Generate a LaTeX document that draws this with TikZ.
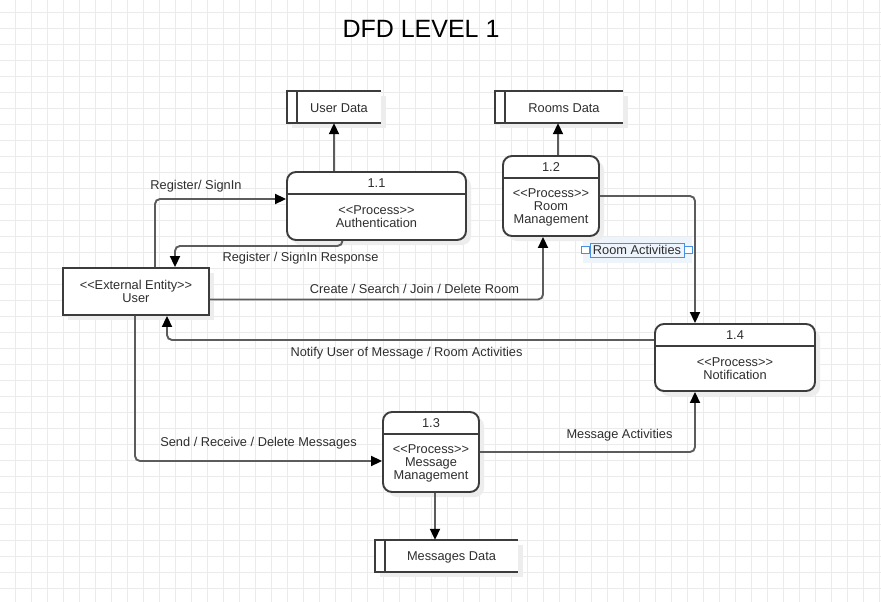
\documentclass[tikz,border=0pt]{standalone}
\usepackage{fontspec}
\setmainfont{Liberation Sans}[Ligatures=TeXOff]
\usetikzlibrary{arrows.meta, positioning, calc, shadows, backgrounds}

\definecolor{gridgray}{HTML}{EBEBEB}
\definecolor{linegray}{HTML}{5C5C5C}
\definecolor{boxgray}{HTML}{3C3C3C}
\definecolor{textgray}{HTML}{2E2E2E}
\definecolor{selblue}{HTML}{4A90E2}
\definecolor{seltint}{HTML}{EDF4FC}

\begin{document}
\begin{tikzpicture} [
    x=1pt, y=-1pt,
    font=\fontsize{12.8}{13}\selectfont,
    text=textgray,
    gridline/.style={draw=gridgray, line width=0.8pt},
    boxshadow/.style={drop shadow={shadow xshift=5pt, shadow yshift=-5pt, fill=black!7, opacity=1}},
    process/.style={rectangle, rounded corners=9pt, draw=boxgray, line width=1.9pt, fill=white, boxshadow},
    entity/.style={rectangle, draw=boxgray, line width=1.9pt, fill=white, boxshadow},
    store/.style={rectangle, fill=white, boxshadow},
    storeline/.style={draw=boxgray, line width=1.9pt},
    divider/.style={draw=boxgray, line width=1.9pt},
    proctext/.style={align=center, inner sep=0pt},
    flowlabel/.style={inner sep=1pt},
    arrow/.style={-{Triangle[length=11pt, width=10pt, color=black]}, draw=linegray, line width=1.9pt, rounded corners=5pt}
]

\useasboundingbox (0,0) rectangle (881,602);

% Page and grid (background)
\begin{scope}[on background layer]
    \fill[white] (0,0) rectangle (881,602);
    \foreach \gx in {15,31,...,879} \draw[gridline] (\gx,0) -- (\gx,602);
    \foreach \gy in {12,28,...,600} \draw[gridline] (0,\gy) -- (881,\gy);
\end{scope}

% Title
\node[font=\fontsize{25}{30}\selectfont, text=black] (title) at (421,29) {DFD LEVEL 1};

% Data stores
\node[store, minimum width=94pt, minimum height=32pt] (ud) at (334,107) {};
\node[store, minimum width=128pt, minimum height=32pt] (rd) at (559,107) {};
\node[store, minimum width=143pt, minimum height=32pt] (md) at (446.5,556) {};
\foreach \st in {ud, rd, md} {
    \draw[storeline] (\st.north east) -- (\st.north west) -- (\st.south west) -- (\st.south east);
    \draw[storeline] ([xshift=10pt]\st.north west) -- ([xshift=10pt]\st.south west);
}
\node (udtext) at ([xshift=5pt, yshift=-1pt]ud.center) {User Data};
\node (rdtext) at ([xshift=5pt, yshift=-1pt]rd.center) {Rooms Data};
\node (mdtext) at ([xshift=5pt, yshift=-1pt]md.center) {Messages Data};

% External entity
\node[entity, minimum width=146pt, minimum height=47pt] (user) at (136,291.5) {};
\node[proctext] (usertext) at ([yshift=0.5pt]user.center) {<<External Entity>>\\User};

% Processes
\node[process, minimum width=179pt, minimum height=68pt] (auth) at (376.5,206) {};
\node[process, minimum width=96pt, minimum height=80pt] (rm) at (551,196) {};
\node[process, minimum width=96pt, minimum height=80pt] (mm) at (431,452) {};
\node[process, minimum width=160pt, minimum height=67pt] (notif) at (735,357.5) {};
\foreach \pr in {auth, rm, mm, notif}
    \draw[divider] ([yshift=-22.5pt]\pr.north west) -- ([yshift=-22.5pt]\pr.north east);

\node (authid) at ([yshift=-12pt]auth.north) {1.1};
\node (rmid) at ([yshift=-12pt]rm.north) {1.2};
\node (mmid) at ([yshift=-12pt]mm.north) {1.3};
\node (notifid) at ([yshift=-12.5pt]notif.north) {1.4};

\node[proctext] (authtext) at ([yshift=-11pt]auth.center) {<<Process>>\\Authentication};
\node[proctext] (rmtext) at ([yshift=-11.5pt]rm.center) {<<Process>>\\Room\\Management};
\node[proctext] (mmtext) at ([yshift=-11.5pt]mm.center) {<<Process>>\\Message\\Management};
\node[proctext] (notiftext) at ([yshift=-11.5pt]notif.center) {<<Process>>\\Notification};

% Flows
\draw[arrow] ([xshift=19pt]user.north) |- ([yshift=7pt]auth.west);
\draw[arrow] ([xshift=-34pt]auth.south) -- ++(0,5) -| ([xshift=39pt]user.north);
\draw[arrow] ([yshift=-8pt]user.east) -| ([xshift=-8pt]rm.south);
\draw[arrow] ([yshift=17.5pt]notif.west) -| ([xshift=31pt]user.south);
\draw[arrow] ([xshift=-1pt]user.south) |- ([yshift=-9pt]mm.west);
\draw[arrow] (mm.east) -| ([xshift=-40pt]notif.south);
\draw[arrow] (rm.east) -| ([xshift=-40pt]notif.north);
\draw[arrow] ([xshift=-42.5pt]auth.north) -- (ud.south);
\draw[arrow] ([xshift=7pt]rm.north) -- ([xshift=7pt]rm.north |- rd.south);
\draw[arrow] ([xshift=4pt]mm.south) -- ([xshift=4pt]mm.south |- md.north);

% Flow labels
\node[flowlabel] (lblsign) at (196,186.5) {Register/ SignIn};
\node[flowlabel] (lblresp) at (300.5,258.5) {Register / SignIn Response};
\node[flowlabel] (lblroom) at (414.5,288.5) {Create / Search / Join / Delete Room};
\node[flowlabel] (lblnotify) at (406.5,353.5) {Notify User of Message / Room Activities};
\node[flowlabel] (lblsend) at (258.5,443.5) {Send / Receive / Delete Messages};
\node[flowlabel] (lblmsg) at (619.5,435) {Message Activities};

% Selected label
\begin{scope}[on background layer]
    \fill[seltint] (583,237) rectangle (692,263);
\end{scope}
\node[flowlabel, draw=selblue, line width=0.8pt, inner sep=0pt, minimum width=94pt, minimum height=14pt] (lblact) at (637,250) {Room Activities};
\draw[selblue, line width=0.8pt, fill=white] ([xshift=-8pt, yshift=-3.5pt]lblact.west) rectangle ([yshift=3.5pt]lblact.west);
\draw[selblue, line width=0.8pt, fill=white] ([yshift=-3.5pt]lblact.east) rectangle ([xshift=8pt, yshift=3.5pt]lblact.east);

\end{tikzpicture}
\end{document}
